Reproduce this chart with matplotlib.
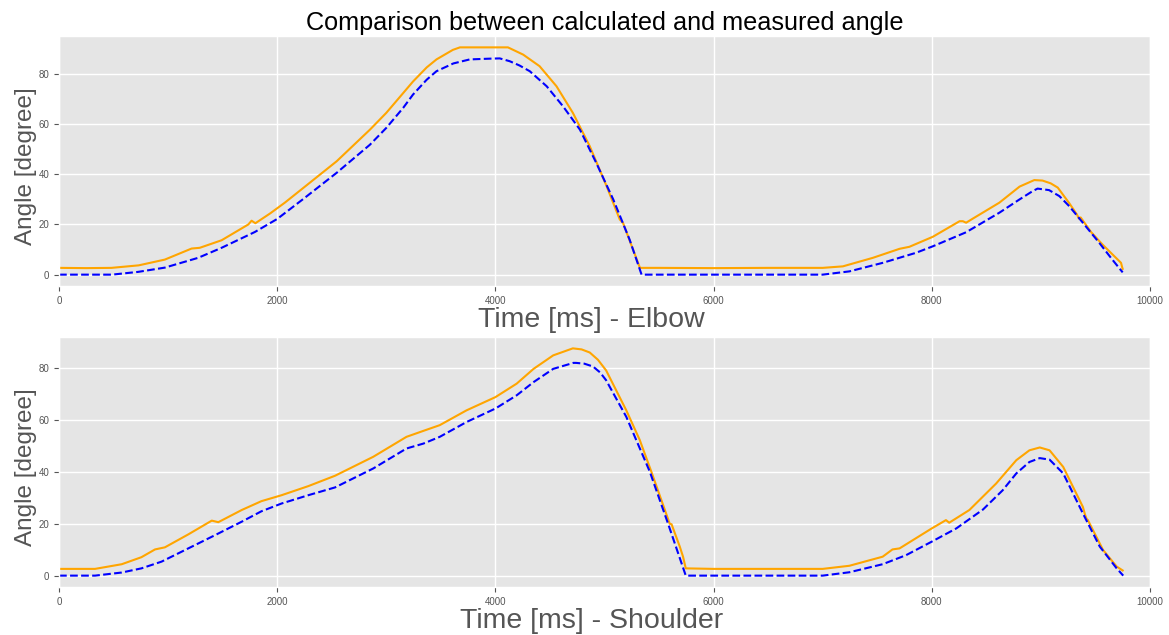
import matplotlib
matplotlib.use("Agg")
import matplotlib.pyplot as plt

# ---------------- data ----------------
elbow_meas_t = [0, 250, 480, 730, 970, 1215, 1290, 1490, 1735, 1765, 1800, 1935, 2070, 2240,
                2545, 2850, 3000, 3155, 3245, 3370, 3460, 3610, 3675, 3950, 4115, 4255, 4405,
                4560, 4710, 4865, 5020, 5140, 5170, 5325, 5500, 6000, 6500, 7000, 7185, 7460,
                7705, 7795, 8010, 8255, 8285, 8315, 8375, 8620, 8805, 8940, 9015, 9090, 9155,
                9260, 9330, 9350, 9365, 9460, 9565, 9735, 9745, 9750]
elbow_meas = [2.7, 2.6, 2.7, 3.7, 6.0, 10.4, 10.7, 13.7, 20.0, 21.5, 20.5, 24.4, 28.7, 34.6,
              45.2, 57.8, 64.5, 72.4, 77.0, 82.6, 85.8, 89.6, 90.6, 90.6, 90.6, 87.7, 83.1,
              75.1, 64.5, 51.2, 35.2, 22.0, 20.6, 2.7, 2.7, 2.6, 2.7, 2.7, 3.3, 6.7,
              10.3, 11.1, 15.1, 21.3, 21.3, 20.7, 22.3, 28.7, 35.1, 37.7, 37.5, 36.4, 34.7,
              28.5, 24.0, 22.3, 22.8, 17.0, 12.0, 4.7, 3.0, 2.3]

elbow_calc_t = [0, 485, 725, 970, 1275, 1490, 1795, 2000, 2240, 2545, 2850, 3000, 3155, 3245,
                3370, 3460, 3615, 3765, 3950, 4040, 4130, 4220, 4315, 4470, 4620, 4775, 4925,
                5080, 5230, 5340, 7000, 7245, 7550, 7855, 8010, 8315, 8620, 8805, 8925, 8970,
                9075, 9170, 9260, 9385, 9535, 9655, 9750]
elbow_calc = [0, 0, 1.1, 2.8, 6.7, 10.7, 17.0, 22.2, 30.2, 40.6, 51.8, 58.5, 66.5, 71.8,
              77.7, 81.1, 84.2, 85.8, 86.1, 86.2, 85.1, 83.4, 81.1, 75.1, 67.1, 57.8, 44.5,
              30.0, 14.0, 0, 0, 1.3, 4.7, 8.7, 11.3, 16.9, 24.7, 30.0, 33.3, 34.3,
              33.7, 31.3, 27.3, 20.7, 12.7, 6.0, 0.9]

shoulder_meas_t = [0, 330, 575, 755, 880, 970, 1185, 1400, 1460, 1675, 1855, 2040, 2285, 2530,
                   2880, 3185, 3340, 3490, 3735, 4000, 4195, 4350, 4530, 4710, 4790, 4865, 4940,
                   5015, 5200, 5323, 5430, 5598, 5615, 5690, 5720, 5745, 6000, 7000, 7245, 7550,
                   7640, 7705, 8000, 8130, 8160, 8345, 8590, 8775, 8895, 8990, 9080, 9205, 9385,
                   9405, 9420, 9430, 9570, 9695, 9750]
shoulder_meas = [2.6, 2.6, 4.4, 7.1, 10.1, 10.9, 15.9, 21.2, 20.6, 25.3, 28.7, 31.0, 34.5, 38.5,
                 45.8, 53.5, 55.8, 58.0, 63.7, 68.8, 74.0, 79.7, 84.9, 87.6, 87.2, 86.0, 83.2,
                 79.1, 63.7, 52.3, 40.0, 20.0, 19.8, 11.2, 7.3, 2.8, 2.6, 2.6, 3.8, 7.3,
                 10.1, 10.5, 18.2, 21.4, 20.4, 25.3, 35.5, 44.5, 48.3, 49.4, 48.3, 41.9, 26.5,
                 23.5, 21.8, 21.5, 9.9, 3.5, 2.0]

shoulder_calc_t = [0, 330, 575, 755, 940, 1185, 1430, 1675, 1855, 2040, 2285, 2530, 2880, 3185,
                   3340, 3490, 3735, 4000, 4195, 4350, 4530, 4715, 4740, 4815, 4895, 4960, 5015,
                   5200, 5416, 5583, 5745, 7000, 7245, 7550, 7765, 8000, 8225, 8470, 8650, 8775,
                   8895, 8990, 9080, 9205, 9385, 9540, 9695, 9755]
shoulder_calc = [0, 0, 1.2, 2.8, 5.4, 10.5, 15.6, 20.8, 24.8, 27.8, 31.0, 34.0, 41.3, 49.0,
                 50.9, 53.5, 59.2, 64.4, 69.5, 74.6, 79.7, 82.0, 82.0, 81.7, 80.6, 78.3, 75.3,
                 61.2, 40.0, 20.0, 0, 0, 1.3, 4.4, 7.9, 13.1, 18.2, 25.5, 32.9, 39.4,
                 43.8, 45.3, 44.7, 39.4, 24.0, 11.2, 2.8, 0]

x_ticks = [0, 2000, 4000, 6000, 8000, 10000]
y_ticks = [0, 20, 40, 60, 80]
title = "Comparison between calculated and measured angle"
ylabel = "Angle [degree]"
xlabels = ["Time [ms] - Elbow", "Time [ms] - Shoulder"]

# ---------------- figure ----------------
plt.style.use("ggplot")
plt.rcParams["font.family"] = ["Liberation Sans", "DejaVu Sans"]

fig = plt.figure(figsize=(11.69, 6.35), dpi=100)
ax1 = fig.add_axes([0.0505, 0.5496, 0.9332, 0.3937])
ax2 = fig.add_axes([0.0505, 0.0756, 0.9332, 0.3937])

panels = [
    (ax1, elbow_meas_t, elbow_meas, elbow_calc_t, elbow_calc, xlabels[0]),
    (ax2, shoulder_meas_t, shoulder_meas, shoulder_calc_t, shoulder_calc, xlabels[1]),
]
for ax, mt, mv, ct, cv, xl in panels:
    ax.plot(mt, mv, color="orange", lw=1.5, solid_joinstyle="round")
    ax.plot(ct, cv, color="blue", lw=1.5, ls="--")
    ax.set_xlim(0, 10000)
    ax.set_xticks(x_ticks)
    ax.set_yticks(y_ticks)
    ax.tick_params(labelsize=7, colors="#555555")
    ax.set_xlabel(xl, fontsize=20.5, color="#555555")
    ax.set_ylabel(ylabel, fontsize=17.5, color="#555555")
    ax.xaxis.set_label_coords(0.488, -0.085)
    ax.yaxis.set_label_coords(-0.020, 0.478)
    ax.grid(True, color="white", lw=1.0)

ax1.set_title(title, fontsize=18.2, color="black", pad=4)

fig.savefig("out.png", dpi=100)
